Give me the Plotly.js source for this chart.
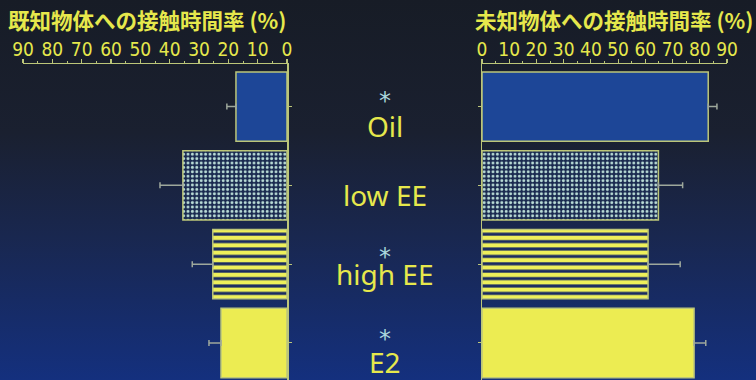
<!DOCTYPE html>
<html>
<head>
<meta charset="utf-8">
<script src="https://cdn.plot.ly/plotly-3.0.1.min.js"></script>
<style>
  html, body { margin: 0; padding: 0; }
  body {
    width: 756px; height: 380px; overflow: hidden;
    background: linear-gradient(to bottom, #171c26 0%, #1a2030 35%, #19274f 62%, #14307e 100%);
  }
  #chart { width: 756px; height: 380px; }
</style>
</head>
<body>
<div id="chart"></div>
<script>
// Groups (top to bottom)
const groups = ['Oil', 'low EE', 'high EE', 'E2'];

// Contact time ratio with the familiar object (%) and its SEM
const knownRatio = [17.4, 35.5, 25.3, 22.5];
const knownSem   = [3.1, 7.8, 7.0, 4.1];

// Contact time ratio with the novel object (%) and its SEM
const novelRatio = [83.1, 64.8, 61.0, 77.9];
const novelSem   = [3.2, 8.9, 11.8, 4.3];

// Groups marked as significant
const significant = [true, false, true, true];

// Axis tick values
const tickVals = [0, 10, 20, 30, 40, 50, 60, 70, 80, 90];

// ---- styling ----
const YELLOW = '#e6e84c';
const LINE = '#bcc679';
const ERR = '#9ea89c';
// fill style for each group: solid blue, dotted, striped, solid yellow
const groupStyle = [
  { color: '#1d4697', pattern: { shape: '' } },
  { color: '#1a2a50', pattern: { shape: '.', fgcolor: '#b9dcd6', bgcolor: '#1a2a50', size: 4.4, solidity: 0.34, fillmode: 'replace' } },
  { color: '#1a2b62', pattern: { shape: '-', fgcolor: '#eef05a', bgcolor: '#1a2b62', size: 7.4, solidity: 0.58, fillmode: 'replace' } },
  { color: '#ecec52', pattern: { shape: '' } }
];

const W = 756, H = 380;
const leftDom = [23 / W, 287 / W];
const rightDom = [482 / W, 727 / W];
const yDom = [0, (H - 64) / H];
const yRange = [3.47, -0.54];

// one bar trace per group so each carries its own fill pattern
function barTraces(vals, sem, xa, ya) {
  return groups.map((g, i) => ({
    type: 'bar',
    orientation: 'h',
    y: [g],
    x: [vals[i]],
    xaxis: xa, yaxis: ya,
    width: 0.88,
    marker: {
      color: groupStyle[i].color,
      line: { color: LINE, width: 1.5 },
      pattern: groupStyle[i].pattern
    },
    error_x: {
      type: 'data', symmetric: false,
      array: [sem[i]], arrayminus: [0],
      color: ERR, thickness: 1.5, width: 3
    },
    name: g,
    showlegend: false
  }));
}

const xCommon = {
  side: 'top',
  tickvals: tickVals,
  showline: true, linecolor: LINE, linewidth: 1.5,
  ticks: 'outside', ticklen: 4, tickwidth: 1.2, tickcolor: LINE,
  ticklabelstandoff: -5,
  minor: { dtick: 5, tick0: 0, ticks: 'outside', ticklen: 2, tickwidth: 1, tickcolor: LINE },
  showgrid: false, zeroline: false,
  tickfont: { family: 'Liberation Sans Narrow, DejaVu Sans Condensed, Arial, sans-serif', size: 19, color: YELLOW },
  fixedrange: true
};
const yCommon = {
  domain: yDom,
  range: yRange,
  type: 'category',
  categoryorder: 'array', categoryarray: groups,
  showline: true, linecolor: LINE, linewidth: 1.5,
  ticks: 'outside', ticklen: 3, tickwidth: 1, tickcolor: LINE,
  showticklabels: false, showgrid: false, zeroline: false,
  fixedrange: true
};

const midX = (leftDom[1] + rightDom[0]) / 2;
const labelShift = [-19, -10, -10, -19];
const starShift = [6, 0, 7, 4];

const titleFont = { family: 'Noto Sans CJK JP, sans-serif', size: 21.5, color: YELLOW, weight: 'bold' };
const annotations = [
  {
    text: '既知物体への接触時間率 (%)', xref: 'paper', yref: 'paper',
    x: 147 / W, y: 1 - 20 / H, xanchor: 'center', yanchor: 'middle', showarrow: false,
    font: titleFont
  },
  {
    text: '未知物体への接触時間率 (%)', xref: 'paper', yref: 'paper',
    x: 614 / W, y: 1 - 20 / H, xanchor: 'center', yanchor: 'middle', showarrow: false,
    font: titleFont
  }
];
groups.forEach((g, i) => {
  annotations.push({
    text: g, xref: 'paper', yref: 'y', x: midX, y: g,
    xanchor: 'center', yanchor: 'middle', yshift: labelShift[i], showarrow: false,
    font: { family: 'Noto Sans, sans-serif', size: 28, color: YELLOW }
  });
  if (significant[i]) {
    annotations.push({
      text: '*', xref: 'paper', yref: 'y', x: midX, y: g,
      xanchor: 'center', yanchor: 'middle', yshift: starShift[i], showarrow: false,
      font: { family: 'DejaVu Sans, sans-serif', size: 24, color: '#a9d6dc' }
    });
  }
});

const layout = {
  width: W, height: H,
  margin: { l: 0, r: 0, t: 0, b: 0 },
  paper_bgcolor: 'rgba(0,0,0,0)',
  plot_bgcolor: 'rgba(0,0,0,0)',
  barmode: 'overlay',
  xaxis: Object.assign({}, xCommon, { domain: leftDom, range: [90, 0], anchor: 'y' }),
  xaxis2: Object.assign({}, xCommon, { domain: rightDom, range: [0, 90], anchor: 'y2' }),
  yaxis: Object.assign({}, yCommon, { anchor: 'x', side: 'right' }),
  yaxis2: Object.assign({}, yCommon, { anchor: 'x2', side: 'left', matches: 'y' }),
  annotations: annotations
};

Plotly.newPlot('chart', [
  ...barTraces(knownRatio, knownSem, 'x', 'y'),
  ...barTraces(novelRatio, novelSem, 'x2', 'y2')
], layout, { displayModeBar: false, staticPlot: true });
</script>
</body>
</html>
